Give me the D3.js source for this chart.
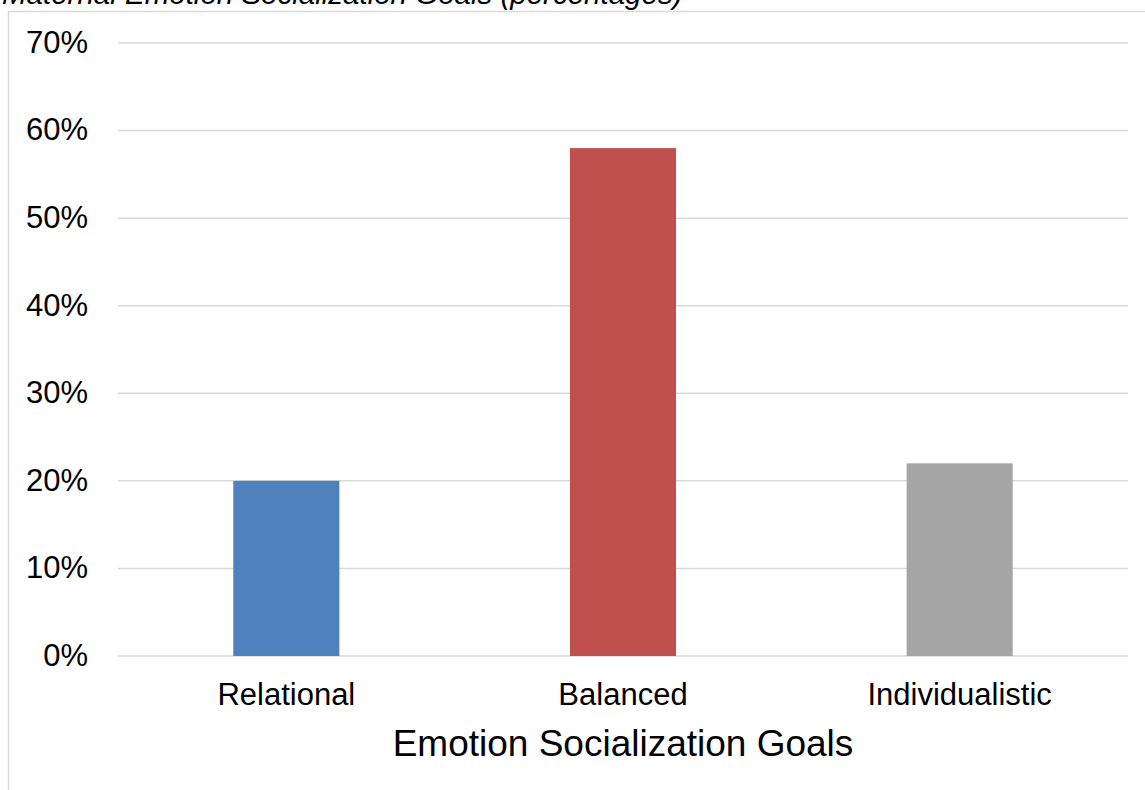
<!DOCTYPE html>
<html>
<head>
<meta charset="utf-8">
<script src="https://cdn.jsdelivr.net/npm/d3@7"></script>
<style>
  body { margin: 0; background: #fff; }
  svg { display: block; font-family: "Liberation Sans", Arial, sans-serif; }
</style>
</head>
<body>
<div id="chart"></div>
<script>
const categories = ["Relational", "Balanced", "Individualistic"];
const percentages = [0.20, 0.58, 0.22];
const barColors = ["#4f81bd", "#c0504d", "#a5a5a5"];
const yTicks = [0, 0.1, 0.2, 0.3, 0.4, 0.5, 0.6, 0.7];
const titleText = "Maternal Emotion Socialization Goals (percentages)";
const xTitle = "Emotion Socialization Goals";

const width = 1145, height = 790;
const plot = { left: 118, right: 1128, top: 43, bottom: 656 };

const svg = d3.select("#chart").append("svg")
  .attr("width", width)
  .attr("height", height);

// chart frame (runs off the right and bottom edges)
svg.append("rect")
  .attr("x", 8.5).attr("y", 11.5)
  .attr("width", 1200).attr("height", 900)
  .attr("fill", "none")
  .attr("stroke", "#d9d9d9")
  .attr("stroke-width", 1.5);

// title, cut off at the top edge as in the source
svg.append("text")
  .attr("x", 2).attr("y", 4)
  .attr("font-size", 29.5)
  .attr("font-style", "italic")
  .attr("fill", "#000")
  .text(titleText);

const x = d3.scaleBand()
  .domain(categories)
  .range([plot.left, plot.right])
  .paddingInner(0.685)
  .paddingOuter(0.3425);

const y = d3.scaleLinear()
  .domain([0, 0.7])
  .range([plot.bottom, plot.top]);

// gridlines
svg.append("g")
  .selectAll("line")
  .data(yTicks)
  .enter()
  .append("line")
  .attr("x1", plot.left)
  .attr("x2", plot.right)
  .attr("y1", d => y(d))
  .attr("y2", d => y(d))
  .attr("stroke", "#d9d9d9")
  .attr("stroke-width", 1.5);

// y tick labels
svg.append("g")
  .selectAll("text")
  .data(yTicks)
  .enter()
  .append("text")
  .attr("x", 88)
  .attr("y", d => y(d))
  .attr("dy", "0.32em")
  .attr("text-anchor", "end")
  .attr("font-size", 31)
  .attr("fill", "#000")
  .text(d => d3.format(".0%")(d));

// bars
svg.append("g")
  .selectAll("rect")
  .data(categories)
  .enter()
  .append("rect")
  .attr("x", d => x(d))
  .attr("width", x.bandwidth())
  .attr("y", (d, i) => y(percentages[i]))
  .attr("height", (d, i) => y(0) - y(percentages[i]))
  .attr("fill", (d, i) => barColors[i]);

// category labels
svg.append("g")
  .selectAll("text")
  .data(categories)
  .enter()
  .append("text")
  .attr("x", d => x(d) + x.bandwidth() / 2)
  .attr("y", 705)
  .attr("text-anchor", "middle")
  .attr("font-size", 31)
  .attr("fill", "#000")
  .text(d => d);

// axis title
svg.append("text")
  .attr("x", (plot.left + plot.right) / 2)
  .attr("y", 756)
  .attr("text-anchor", "middle")
  .attr("font-size", 37)
  .attr("fill", "#000")
  .text(xTitle);
</script>
</body>
</html>
